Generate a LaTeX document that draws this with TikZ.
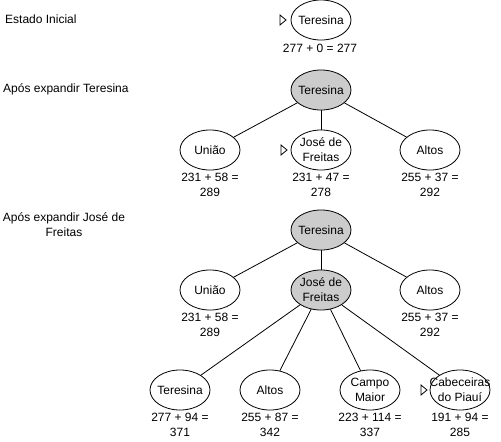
\documentclass[tikz,border=0pt]{standalone}
\usepackage{fontspec}
\setmainfont{Liberation Sans}
\usetikzlibrary{shapes.geometric}

\begin{document}
\begin{tikzpicture}[
    x=1pt,
    y=-1pt,
    font=\fontsize{12}{15}\selectfont,
    estado/.style={
        ellipse,
        draw,
        line width=0.8pt,
        inner sep=0pt,
        minimum width=60,
        minimum height=40,
        label={[align=center, inner sep=0pt]center:#1}
    },
    expandido/.style={
        estado={#1},
        fill=black!20
    },
    custo/.style={
        align=center,
        inner sep=0pt
    },
    titulo/.style={
        align=center,
        inner sep=0pt
    },
    aresta/.style={
        line width=0.8pt
    },
    marca/.style={
        line width=0.8pt,
        line join=miter
    }
]

\useasboundingbox (0,0) rectangle (501,442);

% Estado inicial
\node[titulo, anchor=west] (t1) at (5,19) {Estado Inicial};
\node[estado=Teresina] (a1) at (321,20) {};
\node[custo] (ca1) at (320,48) {277 + 0 = 277};
\coordinate (m1) at (280,20);
\draw[marca] (m1) -- ++(0,-5) -- ++(6,5) -- ++(-6,5) -- cycle;

% Apos expandir Teresina
\node[titulo, anchor=west] (t2) at (3,89) {Após expandir Teresina};
\node[expandido=Teresina] (b1) at (321,90) {};
\node[estado=União] (b2) at (210,150) {};
\node[estado={José de\\Freitas}] (b3) at (321,150) {};
\node[estado=Altos] (b4) at (430,150) {};

\draw[aresta] (b1) -- (b2);
\draw[aresta] (b1) -- (b3);
\draw[aresta] (b1) -- (b4);

\node[custo] (cb2) at (210,185) {231 + 58 =\\289};
\node[custo] (cb3) at (321,185) {231 + 47 =\\278};
\node[custo] (cb4) at (430,185) {255 + 37 =\\292};
\coordinate (m2) at (281,150);
\draw[marca] (m2) -- ++(0,-5) -- ++(6,5) -- ++(-6,5) -- cycle;

% Apos expandir Jose de Freitas
\node[titulo] (t3) at (64,225) {Após expandir José de\\Freitas};
\node[expandido=Teresina] (c1) at (321,230) {};
\node[estado=União] (c2) at (210,290) {};
\node[expandido={José de\\Freitas}] (c3) at (321,290) {};
\node[estado=Altos] (c4) at (430,290) {};
\node[estado=Teresina] (c5) at (180,390) {};
\node[estado=Altos] (c6) at (270,390) {};
\node[estado={Campo\\Maior}] (c7) at (370,390) {};
\node[estado={Cabeceiras\\do Piauí}] (c8) at (460,390) {};

\draw[aresta] (c1) -- (c2);
\draw[aresta] (c1) -- (c3);
\draw[aresta] (c1) -- (c4);
\draw[aresta] (c3) -- (c5);
\draw[aresta] (c3) -- (c6);
\draw[aresta] (c3) -- (c7);
\draw[aresta] (c3) -- (c8);

\node[custo] (cc2) at (210,325) {231 + 58 =\\289};
\node[custo] (cc4) at (430,325) {255 + 37 =\\292};
\node[custo] (cc5) at (180,425) {277 + 94 =\\371};
\node[custo] (cc6) at (270,425) {255 + 87 =\\342};
\node[custo] (cc7) at (370,425) {223 + 114 =\\337};
\node[custo] (cc8) at (460,425) {191 + 94 =\\285};
\coordinate (m3) at (421,390);
\draw[marca] (m3) -- ++(0,-5) -- ++(6,5) -- ++(-6,5) -- cycle;

\end{tikzpicture}
\end{document}
